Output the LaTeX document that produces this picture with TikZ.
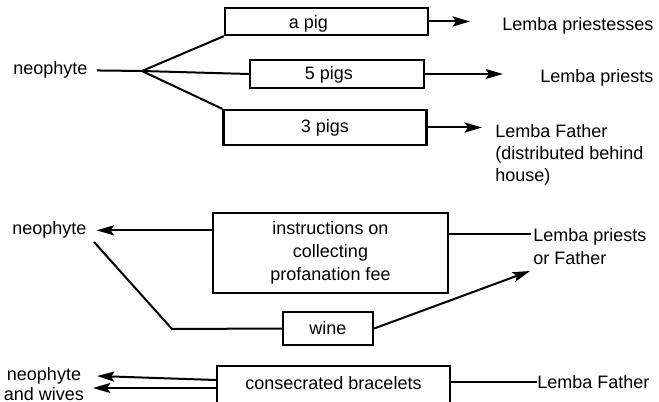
\documentclass[tikz,border=0pt]{standalone}
\usepackage{fontspec}
\setmainfont{Liberation Sans}
\usetikzlibrary{arrows.meta}
\newcommand\labfont{\fontsize{13.5pt}{16.5pt}\selectfont}
\newcommand\boxfont{\fontsize{13.5pt}{17.25pt}\selectfont}
\tikzset{
  lbl/.style={inner sep=0pt, font=\labfont},
  box/.style={draw, line width=1.7pt, inner sep=0pt, font=\boxfont, align=center},
  con/.style={line width=1.5pt},
  arr/.style={con, -{Stealth[length=13pt,width=7.5pt,inset=2.5pt]}}
}
\begin{document}
\begin{tikzpicture}[x=0.75pt, y=-0.75pt]
\useasboundingbox (0,0) rectangle (659,402);
\clip (0,0) rectangle (659,402);

% --- gifts of pigs ---
\node[lbl, anchor=base west] (neoA) at (13,75) {neophyte};
\coordinate (fork) at (142,71);

\node[box, minimum width=203*0.75pt, minimum height=27*0.75pt,
      label={[lbl, xshift=-13.5pt, yshift=-1.5pt]center:a pig}] (pigA) at (326.5,21.5) {};
\node[box, minimum width=174*0.75pt, minimum height=28*0.75pt,
      label={[lbl, xshift=-6pt, yshift=-1pt]center:5 pigs}] (pigB) at (337,74) {};
\node[box, minimum width=203*0.75pt, minimum height=35*0.75pt] (pigC) at (325,127.5) {3 pigs};

\node[lbl, anchor=base west] (priestesses) at (502,31) {Lemba priestesses};
\node[lbl, anchor=base west] (priests) at (540,83) {Lemba priests};
\node[lbl, anchor=base west] (fatherA) at (495,138)
  {\begin{tabular}[t]{@{}l@{}}Lemba Father\\(distributed behind\\house)\end{tabular}};

\draw[con, shorten <=7pt] (neoA.east) -- (fork);
\draw[con] (fork) -- (pigA.south west);
\draw[con] (fork) -- (pigB.west);
\draw[con] (fork) -- (pigC.north west);

\draw[arr, shorten >=24pt] (pigA.east) -- (pigA.east -| priestesses.west);
\draw[arr, shorten >=27.75pt] (pigB.east) -- (pigB.east -| priests.west);
\draw[arr, shorten >=9.75pt] (pigC.east) -- (pigC.east -| fatherA.west);

% --- instructions and wine ---
\node[lbl, anchor=base west] (neoB) at (12,235) {neophyte};
\node[box, minimum width=235*0.75pt, minimum height=80*0.75pt] (instr) at (330.5,253)
  {instructions on\\collecting\\profanation fee};
\node[box, minimum width=90*0.75pt, minimum height=33*0.75pt] (wine) at (328,328.5) {wine};
\node[lbl, anchor=base west] (priestsB) at (533,242)
  {\begin{tabular}[t]{@{}l@{}}Lemba priests\\[0.5pt]or Father\end{tabular}};

\coordinate (priestsIn) at (531,234);
\coordinate (priestsOut) at (530,271);
\coordinate (wineStart) at (94,242);
\coordinate (wineBend) at (172,329);

\draw[arr, shorten >=7.5pt] (instr.west |- neoB.east) -- (neoB.east);
\draw[con] (instr.east |- priestsIn) -- (priestsIn);
\draw[con] (wineStart) -- (wineBend) -- (wine.west);
\draw[arr] (wine.east) -- (priestsOut);

% --- consecrated bracelets ---
\node[lbl, anchor=base] (neoC) at (44,380)
  {\begin{tabular}[t]{@{}c@{}}neophyte\\[-1.5pt]and wives\end{tabular}};
\node[box, minimum width=233*0.75pt, minimum height=40*0.75pt,
      label={[lbl, yshift=2.5pt]center:consecrated bracelets}] (brace) at (333.5,386) {};
\node[lbl, anchor=base west] (fatherB) at (537,388) {Lemba Father};

\coordinate (wivesTipA) at (97,376);
\coordinate (wivesTipB) at (93,388);

\draw[arr] ([yshift=4.5pt]brace.west) -- (wivesTipA);
\draw[arr] ([yshift=-1.5pt]brace.west) -- (wivesTipB);
\draw[con] (brace.east |- fatherB.west) -- (fatherB.west);
\end{tikzpicture}
\end{document}
